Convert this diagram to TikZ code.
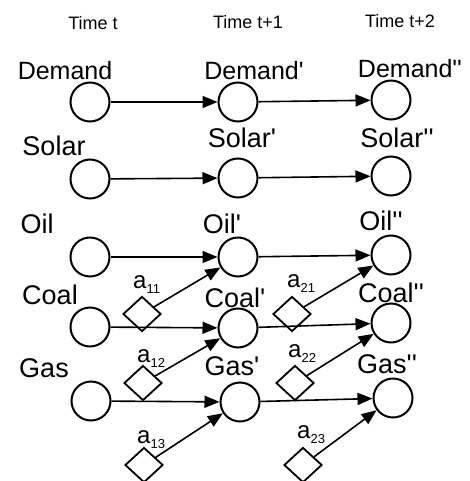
\documentclass[tikz,border=0pt]{standalone}
\usepackage{fontspec}
\setmainfont{Liberation Sans}
\usetikzlibrary{shapes.geometric,arrows.meta}
% straight prime mark, set as a glyph so no quote ligature applies
\newcommand{\sq}{\XeTeXglyph\XeTeXcharglyph"27\relax}
\newcommand{\asub}[1]{a{\fontsize{13}{13}\selectfont\raisebox{-5pt}{#1}}}
\begin{document}
\begin{tikzpicture}[x=1pt,y=-1pt,
  state/.style={circle,draw,line width=2pt,minimum size=39pt,inner sep=0pt},
  act/.style={diamond,draw,line width=1.8pt,minimum width=38pt,minimum height=35pt,inner sep=0pt},
  link/.style={line width=1.6pt,-{Triangle[length=15pt,width=12pt]}},
  lbl/.style={anchor=base,inner sep=0pt,font=\fontsize{27}{27}\selectfont},
  dlbl/.style={anchor=base,inner sep=0pt,font=\fontsize{25}{25}\selectfont},
  tlbl/.style={anchor=base,inner sep=0pt,font=\fontsize{18}{18}\selectfont},
  albl/.style={anchor=base west,inner sep=0pt,font=\fontsize{24}{24}\selectfont}]
\useasboundingbox (0,0) rectangle (470,481);

% time headings
\node[tlbl] (t0) at (93,30) {Time t};
\node[tlbl] (t1) at (248,29) {Time t+1};
\node[tlbl] (t2) at (400,28) {Time t+2};

% state variables
\node[state] (dem0) at (90,102) {};
\node[state] (dem1) at (238,102) {};
\node[state] (dem2) at (391,100) {};
\node[state] (sol0) at (90,179) {};
\node[state] (sol1) at (238,178) {};
\node[state] (sol2) at (391,176) {};
\node[state] (oil0) at (90,257) {};
\node[state] (oil1) at (238,257) {};
\node[state] (oil2) at (391,255) {};
\node[state] (coa0) at (90,327) {};
\node[state] (coa1) at (238,328) {};
\node[state] (coa2) at (391,323) {};
\node[state] (gas0) at (91,401) {};
\node[state] (gas1) at (240,402) {};
\node[state] (gas2) at (393,398) {};

% state names
\node[dlbl] (ldem0) at (65,80) {Demand};
\node[dlbl] (ldem1) at (254,80) {Demand\sq};
\node[dlbl] (ldem2) at (410,78) {Demand\sq\sq};
\node[lbl] (lsol0) at (54,156) {Solar};
\node[lbl] (lsol1) at (242,148) {Solar\sq};
\node[lbl] (lsol2) at (397,147) {Solar\sq\sq};
\node[lbl] (loil0) at (37,233) {Oil};
\node[lbl] (loil1) at (222,233) {Oil\sq};
\node[lbl] (loil2) at (381,230) {Oil\sq\sq};
\node[lbl] (lcoa0) at (50,304) {Coal};
\node[lbl] (lcoa1) at (235,307) {Coal\sq};
\node[lbl] (lcoa2) at (391,302) {Coal\sq\sq};
\node[lbl] (lgas0) at (44,377) {Gas};
\node[lbl] (lgas1) at (232,375) {Gas\sq};
\node[lbl] (lgas2) at (387,373) {Gas\sq\sq};

% actions
\node[act] (a11) at (142,314) {};
\node[act] (a12) at (143,383) {};
\node[act] (a13) at (144,465) {};
\node[act] (a21) at (292,314) {};
\node[act] (a22) at (295,383) {};
\node[act] (a23) at (303,465) {};

\node[albl] (la11) at (133,288) {\asub{11}};
\node[albl] (la12) at (137,362) {\asub{12}};
\node[albl] (la13) at (137,443) {\asub{13}};
\node[albl] (la21) at (287,287) {\asub{21}};
\node[albl] (la22) at (288,357) {\asub{22}};
\node[albl] (la23) at (297,438) {\asub{23}};

% transitions
\foreach \v in {dem,sol,oil,coa,gas}{
  \draw[link] (\v0) -- (\v1);
  \draw[link] (\v1) -- (\v2);
}
\draw[link] (a11) -- (oil1);
\draw[link] (a12) -- (coa1);
\draw[link] (a13) -- (gas1);
\draw[link] (a21) -- (oil2);
\draw[link] (a22) -- (coa2);
\draw[link] (a23) -- (gas2);
\end{tikzpicture}
\end{document}
